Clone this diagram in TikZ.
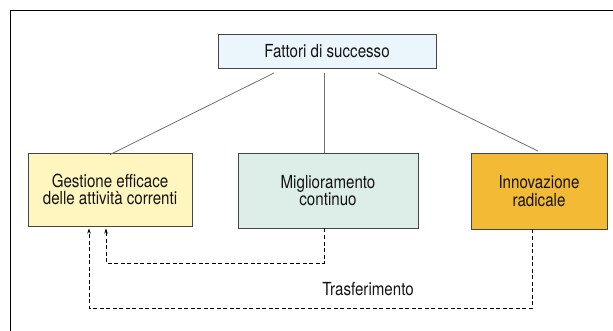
\documentclass[tikz,border=0pt]{standalone}
\usepackage{fontspec}
\setmainfont{TeX Gyre Heros}[FakeStretch=0.84]
\usetikzlibrary{arrows.meta}
\definecolor{txt}{HTML}{141414}
\definecolor{edge}{HTML}{454545}
\definecolor{conncol}{HTML}{707070}
\definecolor{topfill}{HTML}{EAF5FC}
\definecolor{yelfill}{HTML}{FFF5BF}
\definecolor{grnfill}{HTML}{DDEEE8}
\definecolor{orgfill}{HTML}{F2BA35}
\tikzset{
  box/.style={draw=edge, line width=0.9pt, inner sep=0pt, align=center,
    text=txt, font=\fontsize{18}{17.5}\selectfont},
  conn/.style={draw=conncol, line width=0.8pt},
  transfer/.style={draw=black, line width=0.7pt, dash pattern=on 4pt off 2.5pt,
    -{Stealth[length=5pt,width=3.5pt]}},
  lbl/.style={text=txt, font=\fontsize{18}{17.5}\selectfont, inner sep=0pt}
}
\begin{document}
\begin{tikzpicture}[x=1pt,y=-1pt]
\useasboundingbox (0,0) rectangle (613,331);
% frame
\draw[black, line width=1pt] (10.5,340) -- (10.5,10.5) -- (620,10.5);
% nodes
\node[box, fill=topfill, minimum width=218pt, minimum height=34pt] (top) at (327,51) {Fattori di successo};
\node[box, fill=yelfill, minimum width=164pt, minimum height=73pt] (b1) at (110,189.5) {Gestione efficace\\delle attività correnti};
\node[box, fill=grnfill, minimum width=180pt, minimum height=75pt] (b2) at (328,190.5) {Miglioramento\\continuo};
\node[box, fill=orgfill, minimum width=136pt, minimum height=76pt] (b3) at (539,191) {Innovazione\\radicale};
% connector start points below top box
\coordinate (t1) at (274,73);
\coordinate (t2) at (324,73);
\coordinate (t3) at (378,73);
\coordinate (e2) at (324,153);
\coordinate (e3) at (538,151);
\draw[conn] (t1) -- ([yshift=-2pt]b1.north);
\draw[conn] (t2) -- (e2);
\draw[conn] (t3) -- (e3);
% transfer arrows
\coordinate (s2) at (324,228.5);
\coordinate (s3) at (532,229.5);
\coordinate (a1) at (106,228.5);
\coordinate (a2) at (89,228.5);
\draw[transfer] (s2) -- (324,263) -- (106,263) -- (a1);
\draw[transfer] (s3) -- (532,308) -- (89,308) -- (a2);
\node[lbl, anchor=base] (tr) at (368,295) {Trasferimento};
\end{tikzpicture}
\end{document}
